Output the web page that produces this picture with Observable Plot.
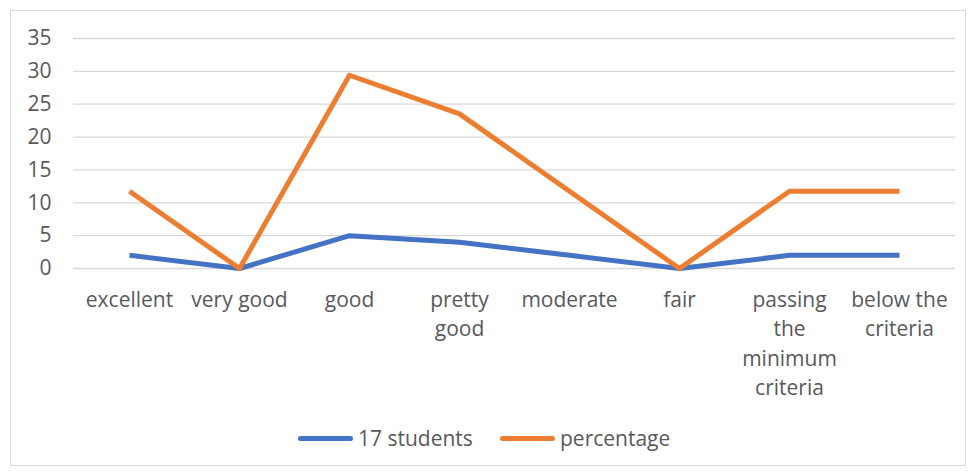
<!DOCTYPE html>
<html>
<head>
<meta charset="utf-8">
<script src="https://cdn.jsdelivr.net/npm/d3@7"></script>
<script src="https://cdn.jsdelivr.net/npm/@observablehq/plot@0.6"></script>
<style>
  html, body { margin: 0; padding: 0; background: #fff; }
  #wrap { position: relative; width: 973px; height: 475px; overflow: hidden; font-family: "Open Sans", sans-serif; }
  #frame { position: absolute; left: 10px; top: 10px; width: 954px; height: 454px; border: 1px solid #d9d9d9; }
  #chart { position: absolute; left: 0; top: 0; }
  #legend { position: absolute; left: 0; top: 424px; width: 973px; font-size: 21px; color: #595959; }
  .item { position: absolute; top: 0; display: flex; align-items: center; height: 28px; }
  .sw { display: inline-block; width: 55px; height: 5px; border-radius: 3px; margin-right: 5px; }
</style>
</head>
<body>
<div id="wrap">
  <div id="frame"></div>
  <div id="chart"></div>
  <div id="legend"></div>
</div>
<script>
const categories = ["excellent", "very good", "good", "pretty good", "moderate", "fair", "passing the minimum criteria", "below the criteria"];
const categoryLabels = ["excellent", "very good", "good", "pretty\ngood", "moderate", "fair", "passing\nthe\nminimum\ncriteria", "below the\ncriteria"];
const seriesNames = ["17 students", "percentage"];
const students = [2, 0, 5, 4, 2, 0, 2, 2];
const percentage = [11.76, 0, 29.41, 23.53, 11.76, 0, 11.76, 11.76];
const yTicks = [0, 5, 10, 15, 20, 25, 30, 35];
const colors = ["#4472C4", "#ED7D31"];

const rows = [];
categories.forEach((c, i) => {
  rows.push({cat: c, series: seriesNames[0], value: students[i]});
  rows.push({cat: c, series: seriesNames[1], value: percentage[i]});
});
const labelRows = categories.map((c, i) => ({cat: c, label: categoryLabels[i]}));

const chart = Plot.plot({
  width: 973,
  height: 410,
  marginLeft: 73,
  marginRight: 18,
  marginTop: 38,
  marginBottom: 142,
  style: {fontFamily: "'Open Sans', sans-serif", background: "transparent", overflow: "visible"},
  x: {type: "point", domain: categories, padding: 0.5, axis: null},
  y: {domain: [0, 35], axis: null},
  color: {domain: seriesNames, range: colors},
  marks: [
    Plot.ruleY(yTicks, {stroke: "#d9d9d9", strokeWidth: 1.3}),
    Plot.axisY(yTicks, {tickSize: 0, tickPadding: 22, fontSize: 21, fill: "#595959", label: null}),
    Plot.line(rows, {x: "cat", y: "value", z: "series", stroke: "series", strokeWidth: 5, strokeLinejoin: "round", strokeLinecap: "butt"}),
    Plot.text(labelRows, {x: "cat", y: () => 0, text: "label", dy: 18, lineAnchor: "top", lineHeight: 1.39, fontSize: 21, fill: "#595959"})
  ]
});
document.getElementById("chart").appendChild(chart);

const legend = document.getElementById("legend");
const legendX = [298, 500];
seriesNames.forEach((s, i) => {
  const item = document.createElement("div");
  item.className = "item";
  item.style.left = legendX[i] + "px";
  item.innerHTML = `<span class="sw" style="background:${colors[i]}"></span><span>${s}</span>`;
  legend.appendChild(item);
});
</script>
</body>
</html>
